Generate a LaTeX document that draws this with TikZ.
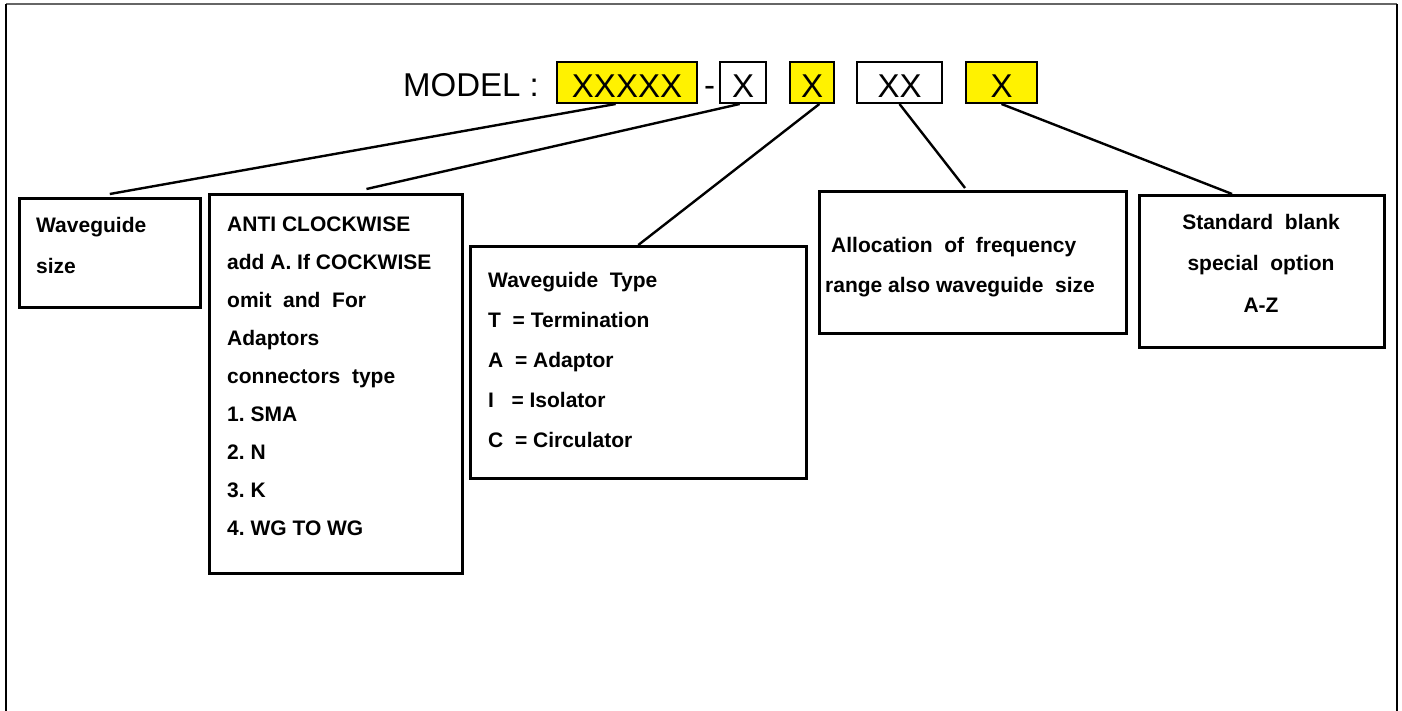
\documentclass[tikz,border=0pt]{standalone}
\usepackage{fontspec}
\setmainfont{Liberation Sans}
\usetikzlibrary{positioning, calc}
\frenchspacing

\begin{document}
\begin{tikzpicture}[x=1pt,y=-1pt,
	code/.style={draw,line width=2pt,minimum height=41pt,inner sep=0pt,text height=30pt,text depth=0pt,font=\fontsize{33}{36}\selectfont},
	hl/.style={code,fill=yellow},
	panel/.style={draw,line width=2.6pt,anchor=north west,inner sep=0pt},
	note/.style={anchor=north west,inner sep=0pt,align=left,font=\fontsize{21}{#1}\selectfont\bfseries},
	lead/.style={line width=2.4pt}]
	\useasboundingbox (0,0) rectangle (1402,711);
	\draw[line width=2pt,black!60] (6,4) -- (1397,4);
	\draw[line width=2.6pt] (6,4) -- (6,711) (1397,4) -- (1397,711);
	\node[anchor=base west,inner sep=0pt,font=\fontsize{33}{36}\selectfont] (model) at (403,97) {MODEL :};
	\node[hl,minimum width=140pt] (size) at (627,82.5) {XXXXX};
	\node[anchor=base,inner sep=0pt,font=\fontsize{33}{36}\selectfont] (dash) at (709.5,97) {-};
	\node[code,minimum width=46pt] (turn) at (743,82.5) {X};
	\node[hl,minimum width=44pt] (kind) at (812,82.5) {X};
	\node[code,minimum width=85pt] (band) at (899.5,82.5) {XX};
	\node[hl,minimum width=71pt] (opt) at (1001.5,82.5) {X};
	\node[panel,minimum width=181pt,minimum height=109pt] (sizebox) at (18,197) {};
	\node[panel,minimum width=253pt,minimum height=379pt] (turnbox) at (208,193) {};
	\node[panel,minimum width=336pt,minimum height=232pt] (kindbox) at (469,245) {};
	\node[panel,minimum width=307pt,minimum height=142pt] (bandbox) at (818,190) {};
	\node[panel,minimum width=245pt,minimum height=152pt] (optbox) at (1138,194) {};
	\node[note=41] (sizetext) at (36,217) {Waveguide\\size};
	\node[note=37.9] (turntext) at (227,217) {ANTI CLOCKWISE\\add A. If COCKWISE\\omit~ and~ For\\Adaptors\\connectors~ type\\1. SMA\\2. N\\3. K\\4. WG TO WG};
	\node[note=40] (kindtext) at (488,272) {Waveguide~ Type\\T~ = Termination\\A~ = Adaptor\\I~~ = Isolator\\C~ = Circulator};
	\node[note=40] (bandtext) at (825,237) {\hspace*{6pt}Allocation~ of~ frequency\\range also waveguide~ size};
	\node[note=41.5,align=center,anchor=north] (opttext) at (1261,214) {Standard~ blank\\special~ option\\A-Z};
	\draw[lead] ($(size.south west)!0.42!(size.south east)$) -- ([yshift=3pt]sizebox.north);
	\draw[lead] ($(turn.south west)!0.43!(turn.south east)$) -- ([yshift=4pt]$(turnbox.north west)!0.62!(turnbox.north east)$);
	\draw[lead] ($(kind.south west)!0.66!(kind.south east)$) -- (kindbox.north);
	\draw[lead] (band.south) -- ([yshift=2pt]$(bandbox.north west)!0.475!(bandbox.north east)$);
	\draw[lead] (opt.south) -- ($(optbox.north west)!0.38!(optbox.north east)$);
\end{tikzpicture}
\end{document}
